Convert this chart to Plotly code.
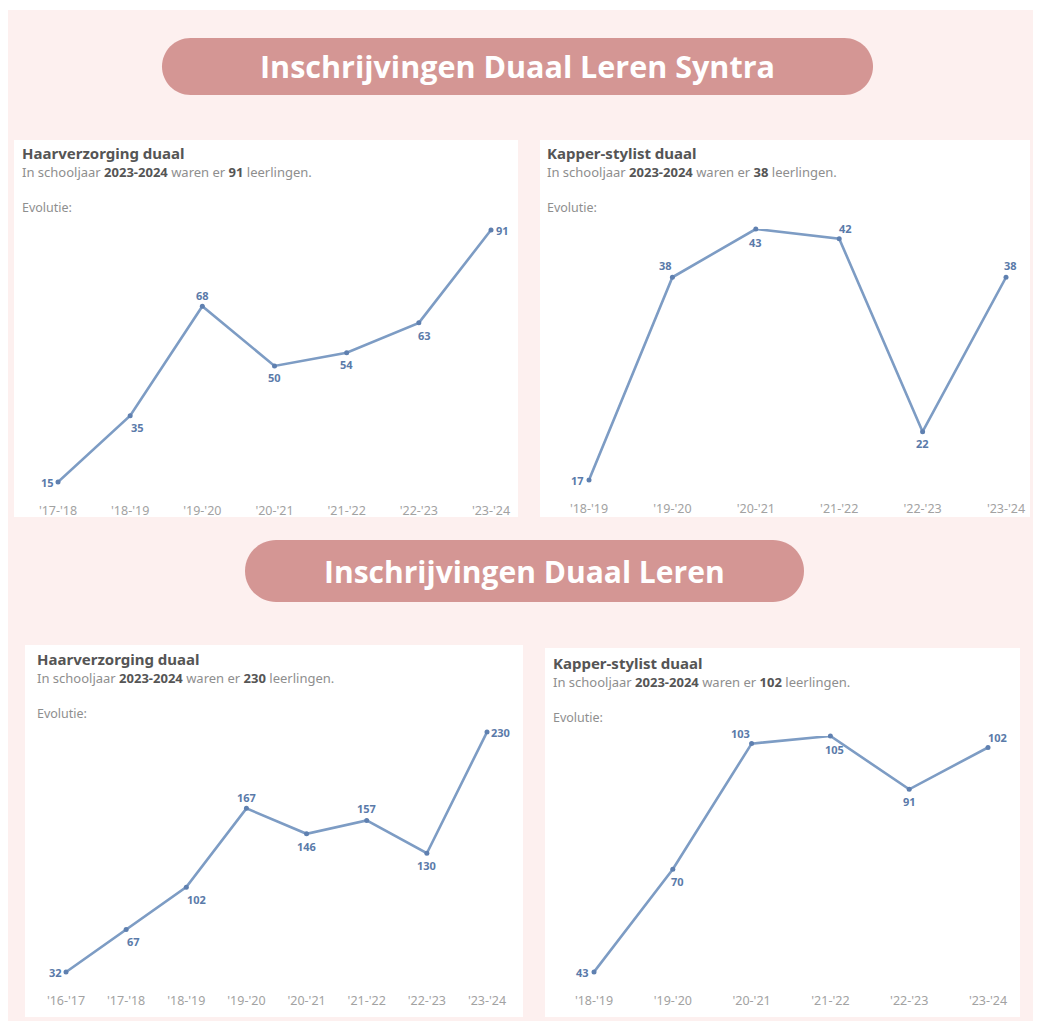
import plotly.graph_objects as go

W, H = 1041, 1021
OFF = 8  # page body margin in the browser

# ---------------- data ----------------
syntra_haar_years = ["'17-'18", "'18-'19", "'19-'20", "'20-'21", "'21-'22", "'22-'23", "'23-'24"]
syntra_haar_vals = [15, 35, 68, 50, 54, 63, 91]

syntra_kapper_years = ["'18-'19", "'19-'20", "'20-'21", "'21-'22", "'22-'23", "'23-'24"]
syntra_kapper_vals = [17, 38, 43, 42, 22, 38]

duaal_haar_years = ["'16-'17", "'17-'18", "'18-'19", "'19-'20", "'20-'21", "'21-'22", "'22-'23", "'23-'24"]
duaal_haar_vals = [32, 67, 102, 167, 146, 157, 130, 230]

duaal_kapper_years = ["'18-'19", "'19-'20", "'20-'21", "'21-'22", "'22-'23", "'23-'24"]
duaal_kapper_vals = [43, 70, 103, 105, 91, 102]

banner_titles = ["Inschrijvingen Duaal Leren Syntra", "Inschrijvingen Duaal Leren"]
panel_titles = ["Haarverzorging duaal", "Kapper-stylist duaal", "Haarverzorging duaal", "Kapper-stylist duaal"]
school_year = "2023-2024"

# ---------------- styling ----------------
PINK_BG = "#fdf0ef"
BANNER = "#d49694"
LINE = "#7d9cc4"
MARKER = "#5f80b0"
LABEL = "#5a7aa9"
TITLE_C = "#555555"
SUB_C = "#8e8e8e"
TICK_C = "#a2a2a2"


def px(x):
    return (x - OFF) / W


def py(y):
    return 1 - (y - OFF) / H


fig = go.Figure()
shapes = []
annotations = []

# page background pink
shapes.append(dict(type="rect", xref="paper", yref="paper", x0=px(8), x1=px(1040), y0=py(1040), y1=py(10),
                   fillcolor=PINK_BG, line_width=0, layer="below"))


def pill(x0, x1, y0, y1, color):
    r = (y1 - y0) / 2
    k = 0.5523 * r
    path = f"M {px(x0 + r)},{py(y0)} L {px(x1 - r)},{py(y0)} "
    path += f"C {px(x1 - r + k)},{py(y0)} {px(x1)},{py(y0 + r - k)} {px(x1)},{py(y0 + r)} "
    path += f"C {px(x1)},{py(y0 + r + k)} {px(x1 - r + k)},{py(y1)} {px(x1 - r)},{py(y1)} "
    path += f"L {px(x0 + r)},{py(y1)} "
    path += f"C {px(x0 + r - k)},{py(y1)} {px(x0)},{py(y0 + r + k)} {px(x0)},{py(y0 + r)} "
    path += f"C {px(x0)},{py(y0 + r - k)} {px(x0 + r - k)},{py(y0)} {px(x0 + r)},{py(y0)} Z"
    return dict(type="path", xref="paper", yref="paper", path=path, fillcolor=color, line_width=0, layer="below")


# banners
banners = [(162, 873, 38, 95, 30.5), (245, 804, 540, 602, 30)]
for (bx0, bx1, by0, by1, fs), t in zip(banners, banner_titles):
    shapes.append(pill(bx0, bx1, by0, by1, BANNER))
    annotations.append(dict(x=px((bx0 + bx1) / 2), y=py((by0 + by1) / 2), xref="paper", yref="paper",
                            text=f"<b>{t}</b>", showarrow=False, xanchor="center", yanchor="middle",
                            font=dict(family="Open Sans", size=fs, color="white")))

# label offsets (dx, dy) in pixels, screen-down positive
panels = [
    dict(box=(14, 518, 140, 517), tx=20, ty=153, plot=(58, 491, 230, 482),
         years=syntra_haar_years, vals=syntra_haar_vals,
         offs=[(-11, 0), (7, 12), (0, -11), (0, 12), (0, 12), (6, 13), (11, 0)]),
    dict(box=(540, 1030, 140, 517), tx=545, ty=153, plot=(589, 1006, 229, 480),
         years=syntra_kapper_years, vals=syntra_kapper_vals,
         offs=[(-12, 0), (-7, -12), (0, 13), (6, -10), (0, 12), (4, -12)]),
    dict(box=(25, 523, 645, 1017), tx=35, ty=659, plot=(66, 487, 732, 972),
         years=duaal_haar_years, vals=duaal_haar_vals,
         offs=[(-11, 0), (7, 12), (10, 12), (0, -11), (0, 13), (0, -12), (0, 12), (13, 0)]),
    dict(box=(545, 1020, 648, 1017), tx=551, ty=663, plot=(594, 988, 736, 972),
         years=duaal_kapper_years, vals=duaal_kapper_vals,
         offs=[(-12, 0), (5, 12), (-11, -10), (4, 13), (0, 12), (9, -10)]),
]

layout_axes = {}
for i, (p, title) in enumerate(zip(panels, panel_titles)):
    bx0, bx1, by0, by1 = p["box"]
    shapes.append(dict(type="rect", xref="paper", yref="paper", x0=px(bx0), x1=px(bx1), y0=py(by1), y1=py(by0),
                       fillcolor="white", line_width=0, layer="below"))
    annotations.append(dict(x=px(p["tx"]), y=py(p["ty"]), xref="paper", yref="paper", text=f"<b>{title}</b>",
                            showarrow=False, xanchor="left", yanchor="middle",
                            font=dict(family="Noto Sans", size=15, color=TITLE_C)))
    last = p["vals"][-1]
    sub = (f"In schooljaar <b><span style='color:{TITLE_C}'>{school_year}</span></b> waren er "
           f"<b><span style='color:{TITLE_C}'>{last}</span></b> leerlingen.")
    annotations.append(dict(x=px(p["tx"]), y=py(p["ty"] + 19), xref="paper", yref="paper", text=sub,
                            showarrow=False, xanchor="left", yanchor="middle",
                            font=dict(family="Noto Sans", size=13, color=SUB_C)))
    annotations.append(dict(x=px(p["tx"]), y=py(p["ty"] + 54), xref="paper", yref="paper", text="Evolutie:",
                            showarrow=False, xanchor="left", yanchor="middle",
                            font=dict(family="Noto Sans", size=12.5, color=SUB_C)))

    xa = "x" if i == 0 else f"x{i + 1}"
    ya = "y" if i == 0 else f"y{i + 1}"
    fig.add_trace(go.Scatter(
        x=p["years"], y=p["vals"], xaxis=xa, yaxis=ya, mode="lines+markers",
        line=dict(color=LINE, width=2.6), marker=dict(color=MARKER, size=5),
        cliponaxis=False, hoverinfo="x+y", showlegend=False))

    for yr, v, (dx, dy) in zip(p["years"], p["vals"], p["offs"]):
        annotations.append(dict(x=yr, y=v, xref=xa, yref=ya, text=f"<b>{v}</b>", showarrow=False,
                                xanchor="center", yanchor="middle", xshift=dx, yshift=-dy,
                                font=dict(family="Noto Sans", size=11, color=LABEL)))

    fx0, fx1, ytop, ybot = p["plot"]
    n = len(p["years"])
    xkey = "xaxis" if i == 0 else f"xaxis{i + 1}"
    ykey = "yaxis" if i == 0 else f"yaxis{i + 1}"
    layout_axes[xkey] = dict(domain=[px(fx0), px(fx1)], anchor=ya, type="category",
                             categoryorder="array", categoryarray=p["years"], range=[0, n - 1],
                             showgrid=False, zeroline=False, showline=False, automargin=False,
                             ticks="outside", ticklen=17, tickcolor="rgba(0,0,0,0)",
                             tickfont=dict(family="Noto Sans", size=12.5, color=TICK_C), fixedrange=True)
    layout_axes[ykey] = dict(domain=[py(ybot), py(ytop)], anchor=xa,
                             range=[min(p["vals"]), max(p["vals"])], automargin=False,
                             showgrid=False, zeroline=False, showline=False, showticklabels=False,
                             fixedrange=True)

fig.update_layout(
    width=W, height=H, margin=dict(l=0, r=0, t=0, b=0, autoexpand=False),
    paper_bgcolor="white", plot_bgcolor="rgba(0,0,0,0)",
    shapes=shapes, annotations=annotations, showlegend=False,
    **layout_axes,
)

fig.write_html("out.html")
